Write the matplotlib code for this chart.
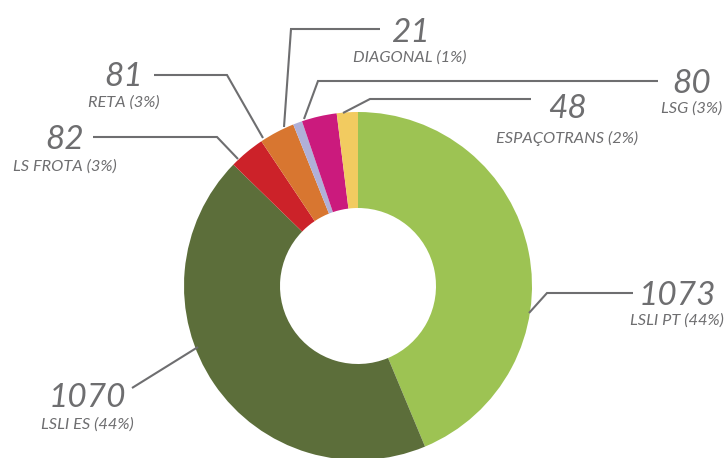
import matplotlib
matplotlib.use("Agg")
import matplotlib.pyplot as plt

# ---- data ----
categories = ["LSLI PT", "LSLI ES", "LS FROTA", "RETA", "DIAGONAL", "LSG", "ESPAÇOTRANS"]
values = [1073, 1070, 82, 81, 21, 80, 48]
percents = ["44%", "44%", "3%", "3%", "1%", "3%", "2%"]
colors = ["#9dc353", "#5c6e3a", "#cc2229", "#d87630", "#b0b0d8", "#cb1a7d", "#f2cb60"]

W, H = 726, 458
TXT = "#6e6e70"

fig = plt.figure(figsize=(W / 100, H / 100), dpi=100)
ax = fig.add_axes([0, 0, 1, 1])

def P(x, y):
    return (x, H - y)

cx, cy = P(358, 286)
R_OUT, R_IN = 174, 78
ax.pie(values, colors=colors, startangle=90, counterclock=False,
       radius=R_OUT, center=(cx, cy),
       wedgeprops=dict(width=R_OUT - R_IN, edgecolor="none", linewidth=0))

ax.set_xlim(0, W)
ax.set_ylim(0, H)
ax.set_aspect("equal", adjustable="box")
ax.axis("off")

# layout: leader-line path (pixels), label centre x, number baseline, label baseline
layout = {
    "LSLI PT":     ([(529, 313), (547, 293), (633, 293)], 677, 305, 325),
    "LSLI ES":     ([(198, 347), (132, 388)], 87, 407, 429),
    "LS FROTA":    ([(238, 159), (217, 137), (93, 137)], 65, 149, 171),
    "RETA":        ([(263, 138), (227, 75), (154, 75)], 124, 86, 107),
    "DIAGONAL":    ([(284, 127), (291, 29), (380, 29)], 410, 42, 62),
    "LSG":         ([(304, 119), (318, 81), (658, 81)], 692, 93, 113),
    "ESPAÇOTRANS": ([(343, 113), (370, 99), (531, 99)], 567, 118, 143),
}

for cat, val, pct in zip(categories, values, percents):
    path, tx, ny, ly = layout[cat]
    pts = [P(x, y) for x, y in path]
    ax.plot([p[0] for p in pts], [p[1] for p in pts], color=TXT, lw=1.5,
            solid_capstyle="butt", solid_joinstyle="miter")
    ax.text(*P(tx, ny), f"{val}", ha="center", va="baseline", fontsize=24,
            family="Lato", style="italic", color=TXT)
    ax.text(*P(tx, ly), f"{cat} ({pct})", ha="center", va="baseline", fontsize=11.8,
            family="Lato", style="italic", color=TXT)

fig.savefig("out.png", dpi=100)
